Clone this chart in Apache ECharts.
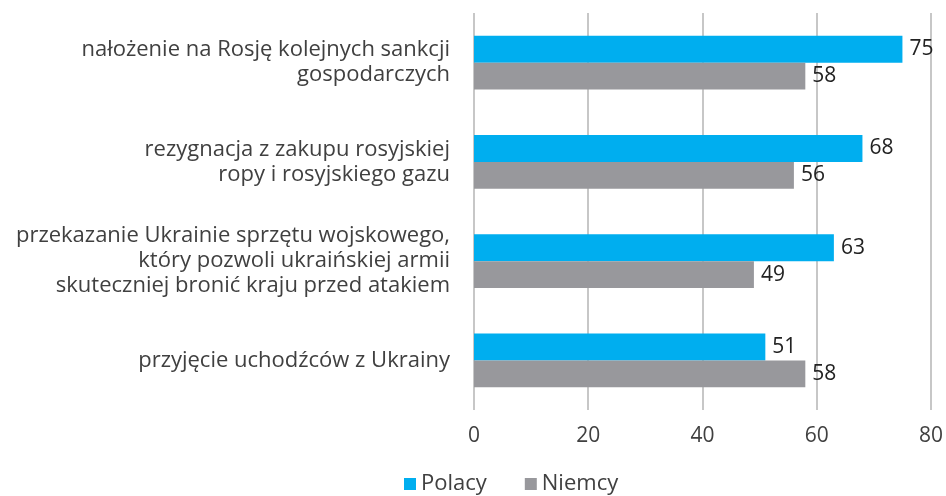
<!DOCTYPE html>
<html>
<head>
<meta charset="utf-8">
<script src="https://cdn.jsdelivr.net/npm/echarts@6/dist/echarts.min.js"></script>
<style>
  html, body { margin: 0; padding: 0; background: #fff; }
  #main { width: 946px; height: 496px; }
</style>
</head>
<body>
<div id="main"></div>
<script>
// kategorie od góry do dołu
var categories = [
  'nałożenie na Rosję kolejnych sankcji\ngospodarczych',
  'rezygnacja z zakupu rosyjskiej\nropy i rosyjskiego gazu',
  'przekazanie Ukrainie sprzętu wojskowego,\nktóry pozwoli ukraińskiej armii\nskuteczniej bronić kraju przed atakiem',
  'przyjęcie uchodźców z Ukrainy'
];
var polacy = [75, 68, 63, 51];
var niemcy = [58, 56, 49, 58];
var xTicks = [0, 20, 40, 60, 80];

var font = 'Open Sans';
var myChart = echarts.init(document.getElementById('main'));

var labelCfg = {
  show: true,
  position: 'right',
  distance: 7,
  color: '#222',
  fontSize: 21,
  fontFamily: font
};

var option = {
  animation: false,
  textStyle: { fontFamily: font },
  grid: {
    left: 474,
    right: 14,
    top: 13,
    bottom: 86
  },
  legend: {
    bottom: -4,
    left: 399,
    itemWidth: 12,
    itemHeight: 12,
    itemGap: 38,
    icon: 'rect',
    textStyle: { fontSize: 22, color: '#404040', fontFamily: font },
    data: ['Polacy', 'Niemcy']
  },
  xAxis: {
    type: 'value',
    min: xTicks[0],
    max: xTicks[xTicks.length - 1],
    interval: 20,
    axisLine: { show: false },
    axisTick: { show: false },
    splitLine: { lineStyle: { color: '#b4b4b4', width: 1.5 } },
    axisLabel: {
      margin: 16,
      fontSize: 21,
      color: '#404040',
      fontFamily: font
    }
  },
  yAxis: {
    type: 'category',
    inverse: true,
    data: categories,
    axisLine: { show: false },
    axisTick: { show: false },
    axisLabel: {
      margin: 24,
      fontSize: 22,
      lineHeight: 25,
      color: '#404040',
      align: 'right',
      fontFamily: font
    }
  },
  series: [
    {
      name: 'Polacy',
      type: 'bar',
      data: polacy,
      barGap: '0%',
      barCategoryGap: '46%',
      itemStyle: { color: '#00AEEF' },
      label: labelCfg
    },
    {
      name: 'Niemcy',
      type: 'bar',
      data: niemcy,
      itemStyle: { color: '#98989C' },
      label: labelCfg
    }
  ]
};

myChart.setOption(option);
</script>
</body>
</html>
